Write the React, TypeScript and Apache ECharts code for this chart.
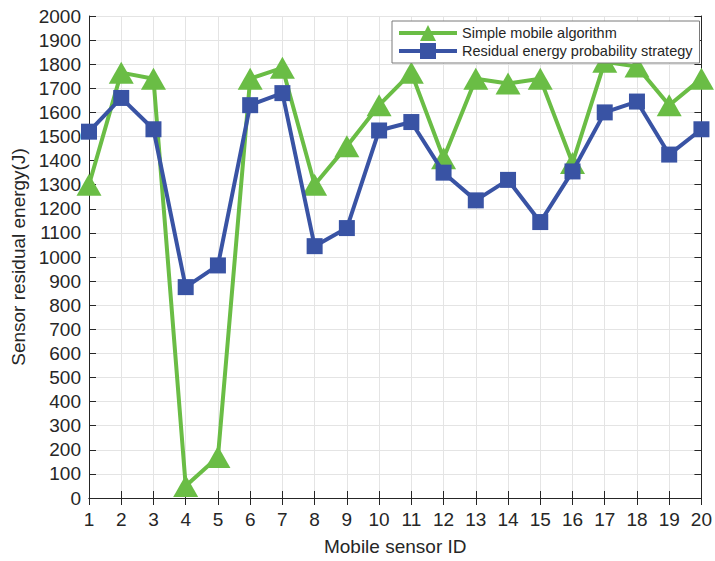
import React, { useEffect, useRef } from "react";
import * as echarts from "echarts";

const sensorIds = [1, 2, 3, 4, 5, 6, 7, 8, 9, 10, 11, 12, 13, 14, 15, 16, 17, 18, 19, 20];
const simpleMobile = [1300, 1765, 1740, 50, 170, 1740, 1785, 1300, 1460, 1630, 1765, 1410, 1740, 1720, 1740, 1390, 1810, 1790, 1630, 1740];
const residualStrategy = [1520, 1660, 1530, 875, 965, 1630, 1680, 1045, 1120, 1525, 1560, 1350, 1235, 1320, 1145, 1355, 1600, 1645, 1425, 1530];
const seriesNames = ["Simple mobile algorithm", "Residual energy probability strategy"];

const FONT = "Liberation Sans, Arial, sans-serif";
const TEXT = "#262626";

export default function App() {
  const ref = useRef<HTMLDivElement>(null);
  useEffect(() => {
    if (!ref.current) return;
    const chart = echarts.init(ref.current, null, { renderer: "svg" });
    const toPairs = (vals: number[]) => sensorIds.map((id, i) => [id, vals[i]]);
    const axisLine = { show: true, lineStyle: { color: TEXT, width: 1 } };
    const plain = (v: number) => String(v);
    chart.setOption({
      animation: false,
      backgroundColor: "#ffffff",
      textStyle: { fontFamily: FONT },
      grid: { left: 89, right: 9, top: 16, bottom: 59, containLabel: false },
      legend: {
        left: 392,
        top: 21,
        orient: "vertical",
        data: seriesNames,
        itemWidth: 58,
        itemHeight: 20,
        itemGap: 2,
        padding: [4, 7, 4, 5],
        borderColor: "#7a7a7a",
        borderWidth: 1,
        backgroundColor: "#ffffff",
        lineStyle: { width: 4 },
        textStyle: { fontFamily: FONT, fontSize: 14.5, color: TEXT, padding: [0, 0, 0, 0] },
      },
      xAxis: [
        {
          type: "value",
          min: 1,
          max: 20,
          interval: 1,
          name: "Mobile sensor ID",
          nameLocation: "middle",
          nameGap: 39,
          nameTextStyle: { fontFamily: FONT, fontSize: 19, color: TEXT },
          axisLine,
          axisTick: { show: true, inside: true, length: 7, lineStyle: { color: TEXT } },
          axisLabel: { fontFamily: FONT, fontSize: 19, color: TEXT, margin: 12, formatter: plain },
          splitLine: { show: true, lineStyle: { color: "#e4e4e4", width: 1 } },
        },
        {
          type: "value",
          position: "top",
          min: 1,
          max: 20,
          interval: 1,
          axisLine,
          axisTick: { show: true, inside: true, length: 7, lineStyle: { color: TEXT } },
          axisLabel: { show: false },
          splitLine: { show: false },
        },
      ],
      yAxis: [
        {
          type: "value",
          min: 0,
          max: 2000,
          interval: 100,
          name: "Sensor residual energy(J)",
          nameLocation: "middle",
          nameGap: 55,
          nameTextStyle: { fontFamily: FONT, fontSize: 19, color: TEXT },
          axisLine,
          axisTick: { show: true, inside: true, length: 7, lineStyle: { color: TEXT } },
          axisLabel: { fontFamily: FONT, fontSize: 19, color: TEXT, margin: 8, formatter: plain },
          splitLine: { show: true, lineStyle: { color: "#e4e4e4", width: 1 } },
        },
        {
          type: "value",
          position: "right",
          min: 0,
          max: 2000,
          interval: 100,
          axisLine,
          axisTick: { show: true, inside: true, length: 7, lineStyle: { color: TEXT } },
          axisLabel: { show: false },
          splitLine: { show: false },
        },
      ],
      series: [
        {
          name: seriesNames[0],
          type: "line",
          data: toPairs(simpleMobile),
          symbol: "triangle",
          symbolSize: [25, 22],
          showAllSymbol: true,
          lineStyle: { color: "#6abd45", width: 4 },
          itemStyle: { color: "#6abd45" },
          z: 2,
        },
        {
          name: seriesNames[1],
          type: "line",
          data: toPairs(residualStrategy),
          symbol: "rect",
          symbolSize: 16,
          showAllSymbol: true,
          lineStyle: { color: "#3953a4", width: 4 },
          itemStyle: { color: "#3953a4" },
          z: 3,
        },
      ],
    });
    return () => chart.dispose();
  }, []);
  return (
    <div
      ref={ref}
      style={{ position: "absolute", left: 0, top: 0, width: 715, height: 561 }}
    />
  );
}
